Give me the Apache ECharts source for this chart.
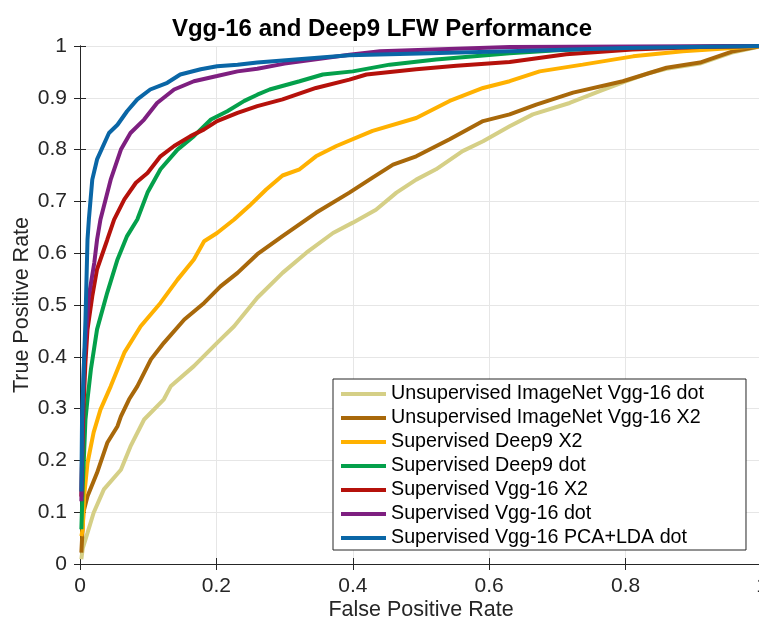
<!DOCTYPE html>
<html>
<head>
<meta charset="utf-8">
<script src="https://cdn.jsdelivr.net/npm/echarts@6/dist/echarts.min.js"></script>
<style>
  html, body { margin: 0; padding: 0; background: #fff; }
  #chart { width: 759px; height: 622px; }
</style>
</head>
<body>
<div id="chart"></div>
<script>
// axis ticks
const xTicks = [0, 0.2, 0.4, 0.6, 0.8, 1];
const yTicks = [0, 0.1, 0.2, 0.3, 0.4, 0.5, 0.6, 0.7, 0.8, 0.9, 1];

const seriesNames = [
  'Unsupervised ImageNet Vgg-16 dot',
  'Unsupervised ImageNet Vgg-16 X2',
  'Supervised Deep9 X2',
  'Supervised Deep9 dot',
  'Supervised Vgg-16 X2',
  'Supervised Vgg-16 dot',
  'Supervised Vgg-16 PCA+LDA dot'
];
const seriesColors = ['#D5CF86', '#A8680A', '#FFB100', '#04A04B', '#B5110B', '#7E1F80', '#0A66A6'];

// [false positive rate, true positive rate]
const unsupVggDot = [[0.002,0.009],[0.004,0.03],[0.011,0.06],[0.02,0.099],[0.035,0.144],[0.06,0.182],[0.074,0.227],[0.094,0.279],[0.123,0.318],[0.133,0.343],[0.167,0.382],[0.201,0.427],[0.226,0.459],[0.26,0.514],[0.297,0.562],[0.332,0.601],[0.371,0.639],[0.4,0.659],[0.434,0.684],[0.464,0.717],[0.493,0.742],[0.522,0.762],[0.561,0.797],[0.591,0.816],[0.63,0.845],[0.664,0.868],[0.718,0.89],[0.762,0.913],[0.801,0.932],[0.835,0.948],[0.86,0.956],[0.909,0.966],[0.958,0.988],[1,1]];
const unsupVggX2 = [[0.002,0.022],[0.005,0.1],[0.011,0.131],[0.025,0.176],[0.04,0.234],[0.055,0.266],[0.06,0.285],[0.072,0.318],[0.084,0.343],[0.104,0.395],[0.123,0.427],[0.153,0.472],[0.182,0.504],[0.206,0.536],[0.231,0.562],[0.26,0.598],[0.297,0.633],[0.346,0.678],[0.395,0.717],[0.429,0.746],[0.459,0.771],[0.493,0.787],[0.542,0.82],[0.591,0.855],[0.63,0.868],[0.669,0.887],[0.723,0.91],[0.796,0.932],[0.86,0.958],[0.909,0.968],[0.958,0.99],[1,1]];
const deep9X2 = [[0.002,0.054],[0.004,0.067],[0.006,0.13],[0.011,0.195],[0.02,0.254],[0.03,0.298],[0.045,0.343],[0.065,0.408],[0.089,0.459],[0.118,0.504],[0.143,0.549],[0.167,0.588],[0.182,0.623],[0.201,0.639],[0.226,0.665],[0.248,0.691],[0.273,0.723],[0.297,0.75],[0.322,0.762],[0.346,0.787],[0.376,0.807],[0.429,0.836],[0.493,0.861],[0.542,0.894],[0.591,0.919],[0.63,0.932],[0.674,0.951],[0.737,0.964],[0.811,0.98],[0.884,0.99],[0.957,0.996],[1,1]];
const deep9Dot = [[0.002,0.067],[0.004,0.15],[0.008,0.279],[0.011,0.318],[0.016,0.376],[0.025,0.453],[0.04,0.524],[0.055,0.588],[0.069,0.633],[0.084,0.665],[0.099,0.717],[0.118,0.762],[0.143,0.8],[0.167,0.826],[0.192,0.858],[0.216,0.874],[0.241,0.894],[0.26,0.906],[0.278,0.916],[0.322,0.932],[0.356,0.945],[0.4,0.951],[0.454,0.964],[0.522,0.974],[0.63,0.986],[0.7,0.992],[0.8,0.997],[1,1]];
const vggX2 = [[0.002,0.13],[0.003,0.2],[0.005,0.3],[0.008,0.39],[0.011,0.453],[0.018,0.517],[0.025,0.569],[0.04,0.626],[0.05,0.665],[0.065,0.704],[0.082,0.736],[0.099,0.755],[0.118,0.787],[0.138,0.807],[0.162,0.826],[0.182,0.839],[0.201,0.855],[0.231,0.871],[0.26,0.884],[0.297,0.897],[0.346,0.919],[0.395,0.935],[0.42,0.945],[0.493,0.955],[0.552,0.962],[0.63,0.969],[0.713,0.984],[0.81,0.993],[0.909,0.998],[1,1]];
const vggDot = [[0.002,0.121],[0.003,0.2],[0.004,0.3],[0.006,0.395],[0.013,0.517],[0.021,0.582],[0.025,0.626],[0.03,0.665],[0.045,0.742],[0.06,0.8],[0.074,0.832],[0.094,0.858],[0.113,0.89],[0.138,0.916],[0.167,0.932],[0.201,0.942],[0.231,0.951],[0.26,0.956],[0.3,0.966],[0.395,0.983],[0.44,0.99],[0.63,0.998],[1,1]];
const vggPcaLda = [[0.002,0.14],[0.003,0.28],[0.008,0.47],[0.011,0.626],[0.013,0.665],[0.018,0.742],[0.025,0.781],[0.0425,0.832],[0.055,0.848],[0.069,0.874],[0.084,0.897],[0.103,0.916],[0.128,0.929],[0.147,0.945],[0.177,0.955],[0.201,0.961],[0.231,0.964],[0.26,0.968],[0.395,0.982],[0.63,0.99],[0.8,0.996],[1,1]];

const seriesData = [unsupVggDot, unsupVggX2, deep9X2, deep9Dot, vggX2, vggDot, vggPcaLda];

const font = 'Liberation Sans, Arial, Helvetica, sans-serif';
const axisColor = '#262626';

const chart = echarts.init(document.getElementById('chart'), null, {renderer: 'canvas'});

const baseAxis = (ticks) => ({
  type: 'value',
  min: ticks[0],
  max: ticks[ticks.length - 1],
  interval: ticks[1] - ticks[0],
  axisLine: {show: true, lineStyle: {color: axisColor, width: 1}},
  axisTick: {show: true, inside: true, length: 6, lineStyle: {color: axisColor}}
});

chart.setOption({
  animation: false,
  backgroundColor: '#fff',
  title: {
    text: 'Vgg-16 and Deep9 LFW Performance',
    left: 377,
    top: 12,
    textAlign: 'center',
    textStyle: {fontFamily: font, fontSize: 24, fontWeight: 'bold', color: '#000'}
  },
  grid: {left: 80, top: 46, width: 682, height: 518, outerBoundsMode: 'none', containLabel: false},
  legend: {
    show: true,
    orient: 'vertical',
    left: 333,
    top: 379,
    padding: [5, 42, 2, 8],
    icon: 'rect',
    itemWidth: 45,
    itemHeight: 4,
    itemGap: 4,
    selectedMode: false,
    backgroundColor: '#fff',
    borderColor: axisColor,
    borderWidth: 1,
    borderRadius: 0,
    textStyle: {fontFamily: font, fontSize: 19.7, color: '#000'},
    data: seriesNames
  },
  xAxis: [
    Object.assign(baseAxis(xTicks), {
      position: 'bottom',
      name: 'False Positive Rate',
      nameLocation: 'middle',
      nameGap: 35,
      nameMoveOverlap: false,
      nameTextStyle: {fontFamily: font, fontSize: 21.5, color: axisColor},
      axisLabel: {fontFamily: font, fontSize: 21, color: axisColor, margin: 12},
      splitLine: {show: true, lineStyle: {color: '#e6e6e6', width: 1}}
    }),
    Object.assign(baseAxis(xTicks), {
      position: 'top',
      axisLabel: {show: false},
      splitLine: {show: false}
    })
  ],
  yAxis: [
    Object.assign(baseAxis(yTicks), {
      position: 'left',
      name: 'True Positive Rate',
      nameLocation: 'middle',
      nameGap: 47,
      nameMoveOverlap: false,
      nameTextStyle: {fontFamily: font, fontSize: 21.5, color: axisColor},
      axisLabel: {fontFamily: font, fontSize: 21, color: axisColor, margin: 13},
      splitLine: {show: true, lineStyle: {color: '#e6e6e6', width: 1}}
    }),
    Object.assign(baseAxis(yTicks), {
      position: 'right',
      axisLabel: {show: false},
      splitLine: {show: false}
    })
  ],
  series: seriesNames.map((name, i) => ({
    name: name,
    type: 'line',
    xAxisIndex: 0,
    yAxisIndex: 0,
    data: seriesData[i],
    showSymbol: false,
    symbol: 'none',
    clip: false,
    color: seriesColors[i],
    lineStyle: {color: seriesColors[i], width: 4},
    z: 3
  }))
});
</script>
</body>
</html>
